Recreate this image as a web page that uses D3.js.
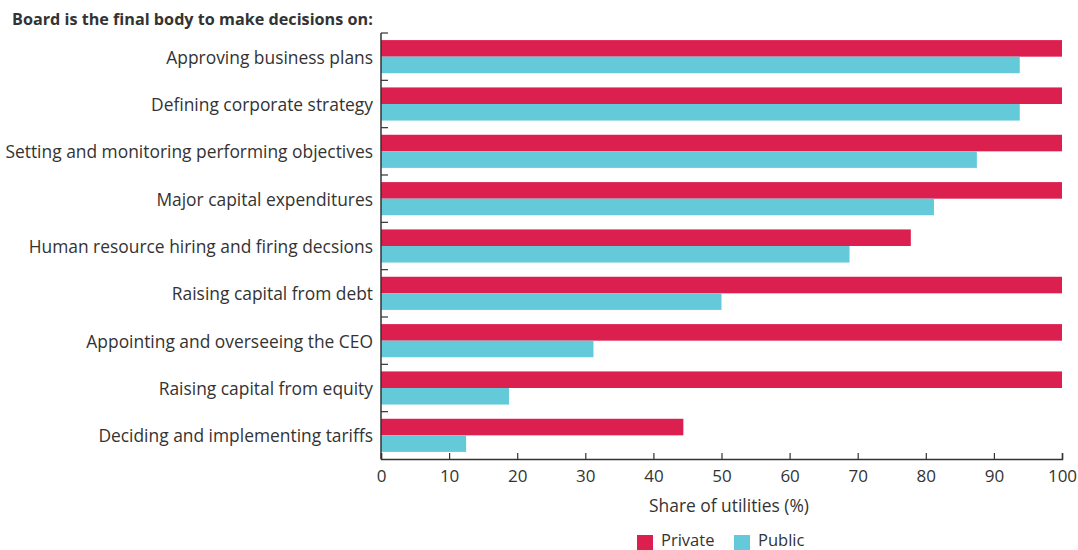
<!DOCTYPE html>
<html><head><meta charset="utf-8">
<script src="https://cdn.jsdelivr.net/npm/d3@7"></script>
<style>body{margin:0;background:#fff}svg{display:block}text{font-family:"Open Sans",sans-serif;fill:#333}</style>
</head><body><svg id="c" width="1078" height="550"></svg>
<script>
const categories = ["Approving business plans","Defining corporate strategy","Setting and monitoring performing objectives","Major capital expenditures","Human resource hiring and firing decsions","Raising capital from debt","Appointing and overseeing the CEO","Raising capital from equity","Deciding and implementing tariffs"];
const privateValues = [100,100,100,100,77.8,100,100,100,44.4];
const publicValues = [93.8,93.8,87.5,81.2,68.8,50,31.2,18.8,12.5];
const seriesNames = ["Private","Public"];
const colors = ["#DB1F4E","#64CAD9"];
const xTicks = [0,10,20,30,40,50,60,70,80,90,100];

const svg = d3.select("#c");
const x = d3.scaleLinear().domain([0,100]).range([381,1062]);
const y = d3.scaleBand().domain(categories).range([33,459]).paddingInner(0.3).paddingOuter(0.15);
const step = y.step();
const sub = d3.scaleBand().domain(seriesNames).range([0,y.bandwidth()]);

svg.append("text").attr("x",12).attr("y",25).attr("font-weight","bold").attr("font-size",16.2).text("Board is the final body to make decisions on:");

const data = categories.map((c,i)=>({c, vals:[privateValues[i],publicValues[i]]}));
const g = svg.append("g");
data.forEach(d=>{
  d.vals.forEach((v,j)=>{
    g.append("rect").attr("x",x(0)).attr("y",y(d.c)+sub(seriesNames[j])).attr("width",x(v)-x(0)).attr("height",sub.bandwidth()).attr("fill",colors[j]);
  });
});

svg.append("line").attr("x1",381).attr("x2",381).attr("y1",33).attr("y2",459).attr("stroke","#333").attr("stroke-width",1.5);
for(let i=0;i<categories.length;i++){
  const yy = 33 + i*step;
  svg.append("line").attr("x1",381).attr("x2",388).attr("y1",yy).attr("y2",yy).attr("stroke","#333").attr("stroke-width",1.2);
}
data.forEach(d=>{
  svg.append("text").attr("x",373).attr("y",y(d.c)+y.bandwidth()/2).attr("dy","0.4em").attr("text-anchor","end").attr("font-size",17.4).text(d.c);
});

const xa = svg.append("g").attr("transform","translate(0,459)")
  .call(d3.axisBottom(x).tickValues(xTicks).tickSize(-6).tickPadding(11));
xa.select(".domain").attr("stroke","#333").attr("stroke-width",1.5);
xa.selectAll(".tick line").attr("stroke","#333").attr("stroke-width",1.2);
xa.selectAll("text").attr("font-size",17).attr("font-family","Open Sans").attr("fill","#333");

svg.append("text").attr("x",729).attr("y",512).attr("text-anchor","middle").attr("font-size",17.4).text("Share of utilities (%)");

const legendX = [637,734];
seriesNames.forEach((s,j)=>{
  svg.append("rect").attr("x",legendX[j]).attr("y",535).attr("width",16).attr("height",15).attr("fill",colors[j]);
  svg.append("text").attr("x",legendX[j]+24).attr("y",546).attr("font-size",16.5).text(s);
});
</script></body></html>
